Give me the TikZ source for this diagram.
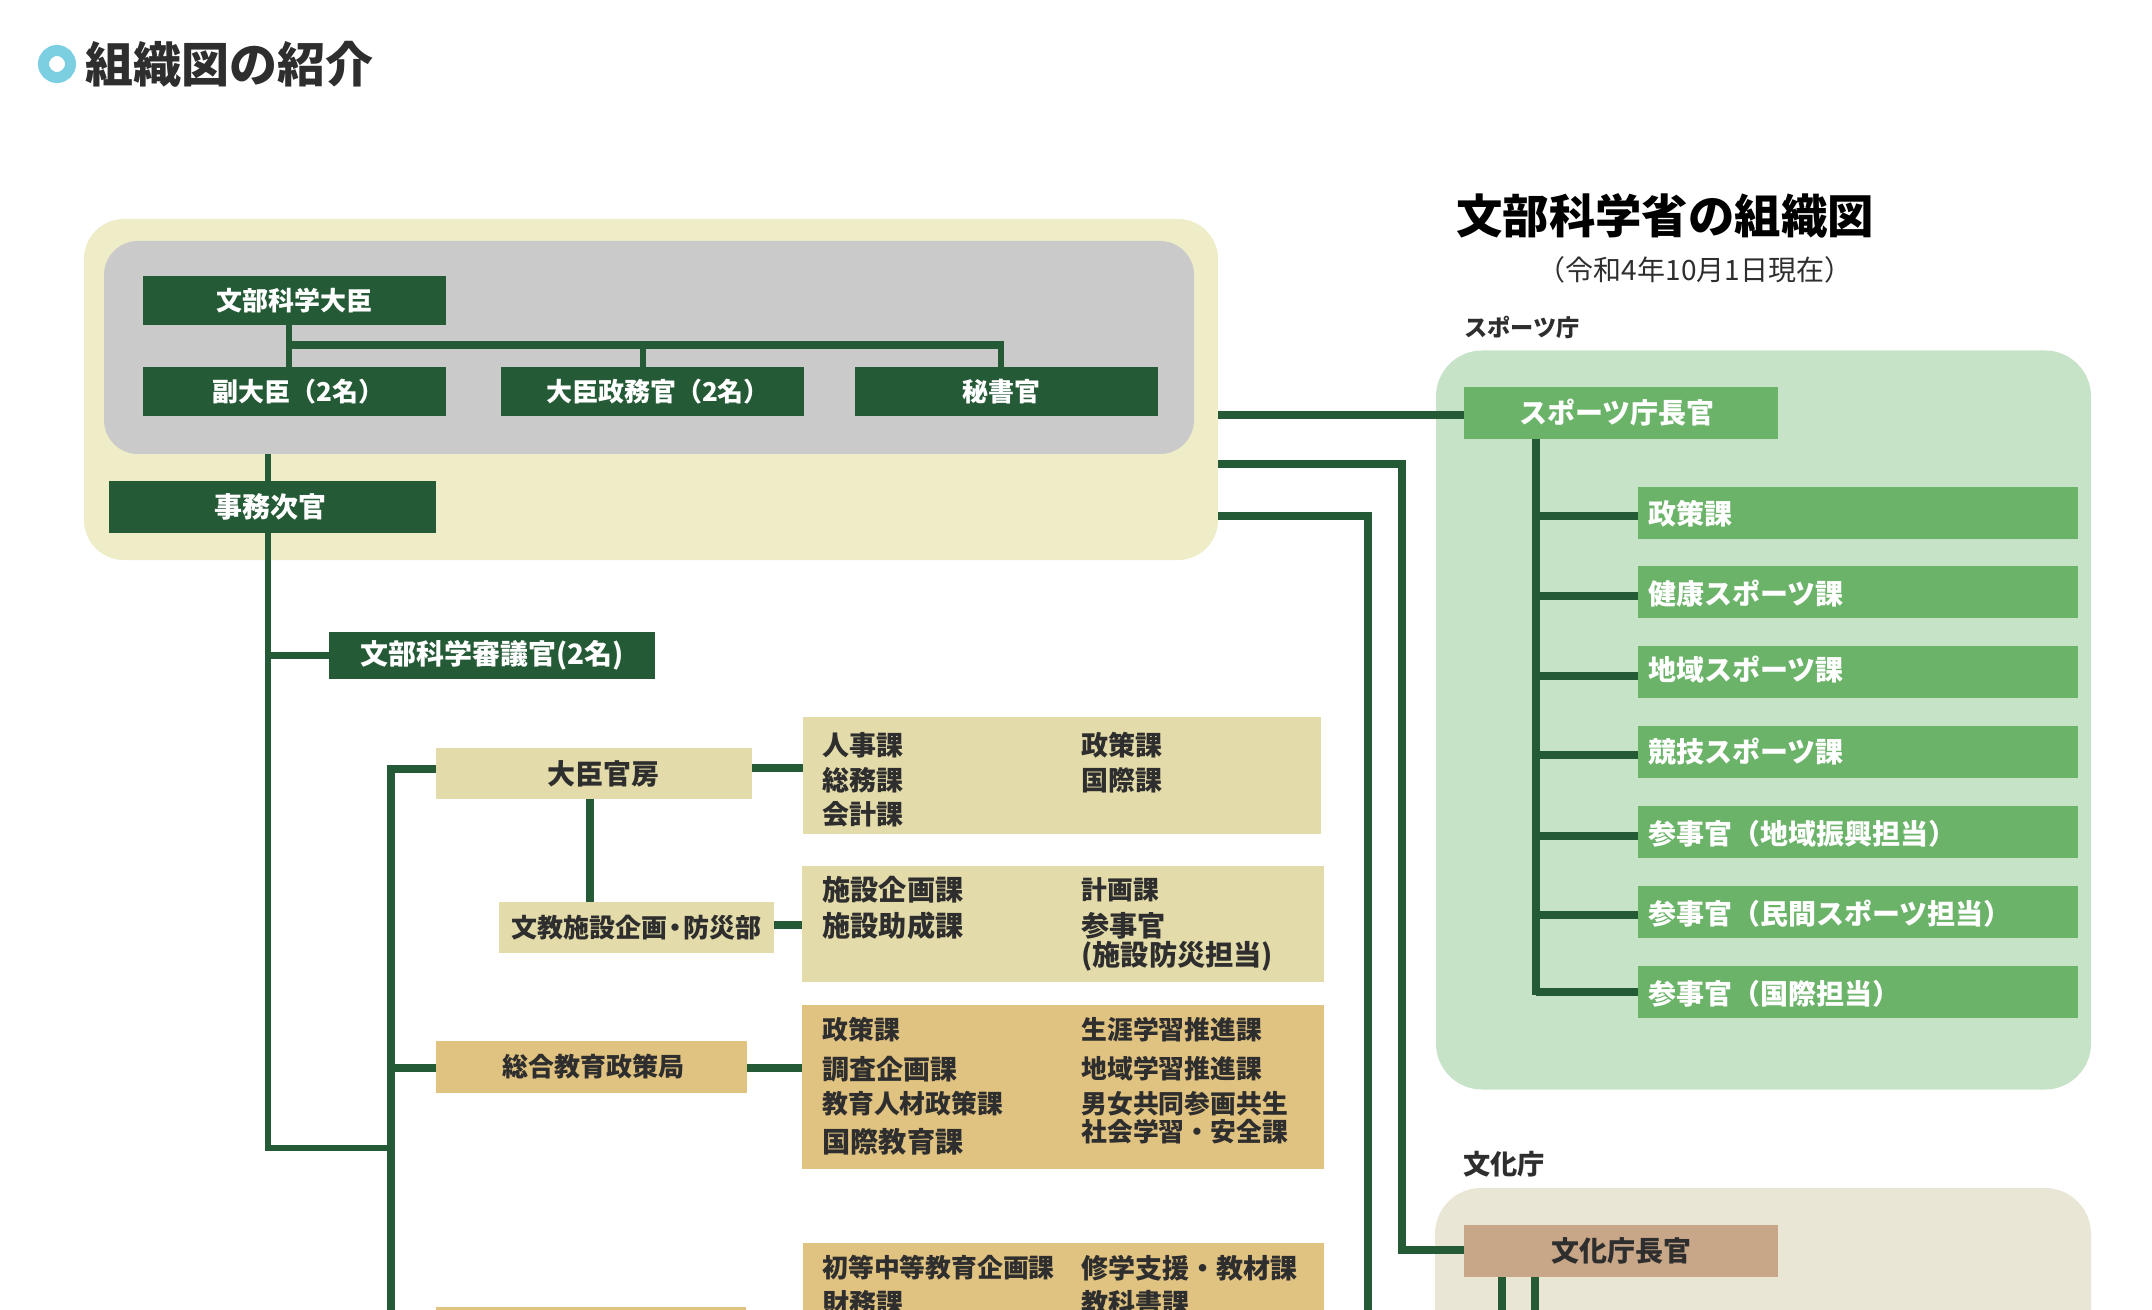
\documentclass[tikz,border=0pt]{standalone}
\usepackage{fontspec}
\usetikzlibrary{positioning}
\setmainfont{Noto Sans CJK JP}
\definecolor{dkgreen}{HTML}{255A37}
\definecolor{outercream}{HTML}{EEEDC8}
\definecolor{greypanel}{HTML}{CACACA}
\definecolor{sportbg}{HTML}{C7E3C7}
\definecolor{sportbox}{HTML}{6CB36A}
\definecolor{culturebg}{HTML}{EAE6D5}
\definecolor{culturebox}{HTML}{C8A688}
\definecolor{paleochre}{HTML}{E3DBA9}
\definecolor{ochre}{HTML}{E0C281}
\definecolor{bulletblue}{HTML}{7CCFE0}
\definecolor{inktext}{HTML}{2E2E2E}
\begin{document}
\begin{tikzpicture}
        [x=0.5pt,y=-0.5pt,
        box/.style={rectangle,inner sep=0pt,font=\bfseries\fontsize{13}{15}\selectfont},
        bigbox/.style={box,font=\bfseries\fontsize{14}{16}\selectfont},
        dkbox/.style={box,fill=dkgreen,text=white},
        minbox/.style={dkbox,minimum width=151.5pt,minimum height=24.5pt},
        spbox/.style={box,fill=sportbox,text=white,minimum width=220pt,minimum height=26pt},
        sptext/.style={anchor=west,text=white,inner sep=0pt,font=\bfseries\fontsize{14}{16}\selectfont},
        panel/.style={rectangle,inner sep=0pt,rounded corners=20pt},
        item/.style={anchor=west,inner sep=0pt,text=inktext,font=\bfseries\fontsize{13.5}{16}\selectfont},
        itemsm/.style={item,font=\bfseries\fontsize{12.9}{16}\selectfont},
        itemlg/.style={item,font=\bfseries\fontsize{14.1}{16}\selectfont},
        link/.style={draw=dkgreen,line width=3.7pt},
        thinlink/.style={draw=dkgreen,line width=3.1pt},
        caption/.style={inner sep=0pt,text=inktext,font=\bfseries\fontsize{12.5}{15}\selectfont}]
        \useasboundingbox (0,0) rectangle (2152,1310);
        \clip (0,0) rectangle (2152,1310);
        \fill[white] (0,0) rectangle (2152,1310);

        % heading
        \node[circle,draw=bulletblue,line width=5.5pt,minimum size=13.5pt,inner sep=0pt] (bullet) at (57,64) {};
        \node[right=4.5pt of bullet,inner sep=0pt,text=inktext,font=\bfseries\fontsize{24}{28}\selectfont] (heading) {組織図の紹介};
        \node[inner sep=0pt,text=black,font=\bfseries\fontsize{23.2}{27}\selectfont] (title) at (1665,216) {文部科学省の組織図};
        \node[inner sep=0pt,text=inktext,font=\fontsize{14}{16}\selectfont] (date) at (1695,270) {（令和4年10月1日現在）};

        % panels
        \node[panel,fill=outercream,minimum width=567pt,minimum height=170.5pt] (top) at (651,389.5) {};
        \node[panel,rounded corners=17pt,fill=greypanel,minimum width=545pt,minimum height=106.5pt] (grey) at (649,347.5) {};
        \node[panel,rounded corners=23pt,fill=sportbg,minimum width=327.5pt,minimum height=369.5pt] (sport) at (1763.5,720) {};
        \node[panel,rounded corners=23pt,fill=culturebg,minimum width=328pt,minimum height=200pt] (culture) at (1763,1388) {};
        \node[caption,anchor=west,font=\bfseries\fontsize{11.6}{15}\selectfont] (sportcap) at (1464,327) {スポーツ庁};
        \node[caption,anchor=west,font=\bfseries\fontsize{13.6}{15}\selectfont] (culturecap) at (1463,1164) {文化庁};

        % ministers
        \node[minbox] (minister) at (294.5,300.5) {\raisebox{-1pt}{文部科学大臣}};
        \node[minbox] (vice) at (294.5,391.5) {\kern4pt 副大臣（2名）};
        \node[minbox] (parl) at (652.5,391.5) {\kern5.5pt 大臣政務官（2名）};
        \node[minbox] (sec) at (1006.5,391.5) {\raisebox{-0.5pt}{秘書官}\kern5pt};
        \node[dkbox,bigbox,text=white,minimum width=163.5pt,minimum height=26pt] (vicemin) at (272.5,507) {事務次官\kern2pt};
        \node[dkbox,bigbox,text=white,minimum width=163pt,minimum height=23.5pt] (council) at (492,655.5) {文部科学審議官(2名)};

        % bureaus
        \node[box,bigbox,fill=paleochre,text=inktext,minimum width=158pt,minimum height=25.5pt] (kanbo) at (594,773.5) {\kern9pt\raisebox{-0.5pt}{大臣官房}};
        \node[box,fill=paleochre,text=inktext,minimum width=137.5pt,minimum height=25.5pt] (shisetsu) at (636.5,927.5) {文教施設企画\kern-2.5pt・\kern-2.5pt防災部};
        \node[box,fill=ochre,text=inktext,minimum width=155.5pt,minimum height=26pt] (sogo) at (591.5,1067) {\kern2pt 総合教育政策局};
        \node[box,fill=ochre,minimum width=155pt,minimum height=26pt] (shoto) at (591,1333) {};

        \node[box,fill=paleochre,minimum width=259pt,minimum height=58.5pt] (p1) at (1062,775.5) {};
        \node[box,fill=paleochre,minimum width=261pt,minimum height=58pt] (p2) at (1063,924) {};
        \node[box,fill=ochre,minimum width=261pt,minimum height=82pt] (p3) at (1063,1087) {};
        \node[box,fill=ochre,minimum width=260.5pt,minimum height=80pt] (p4) at (1063.5,1323) {};

        % panel items
        \node[item] (a1) at (822,745) {人事課};
        \node[item] (a2) at (822,780) {総務課};
        \node[item] (a3) at (822,814) {会計課};
        \node[item] (a4) at (1081,745) {政策課};
        \node[item] (a5) at (1081,780) {国際課};
        \node[itemlg] (b1) at (822,890) {施設企画課};
        \node[itemlg] (b2) at (822,926) {施設助成課};
        \node[itemsm] (b3) at (1081,890) {計画課};
        \node[itemlg] (b4) at (1081,926) {参事官};
        \node[itemlg] (b5) at (1081,956) {(施設防災担当)};
        \node[itemsm] (c1) at (822,1030) {政策課};
        \node[item] (c2) at (822,1069) {調査企画課};
        \node[itemsm] (c3) at (822,1104) {教育人材政策課};
        \node[itemlg] (c4) at (822,1142) {国際教育課};
        \node[itemsm] (c5) at (1081,1030) {生涯学習推進課};
        \node[itemsm] (c6) at (1081,1069) {地域学習推進課};
        \node[itemsm] (c7) at (1081,1104) {男女共同参画共生};
        \node[itemsm] (c8) at (1081,1132) {社会学習・安全課};
        \node[itemsm] (d1) at (822,1268) {初等中等教育企画課};
        \node[item] (d2) at (822,1303) {財務課};
        \node[item] (d3) at (1081,1268) {修学支援・教材課};
        \node[item] (d4) at (1081,1303) {教科書課};

        % sports agency
        \node[box,bigbox,fill=sportbox,text=white,minimum width=157pt,minimum height=26pt] (spchief) at (1621,413) {\raisebox{-0.5pt}{スポーツ庁長官}\kern4pt};
        \node[spbox] (s1) at (1858,512.5) {};
        \node[spbox] (s2) at (1858,592) {};
        \node[spbox] (s3) at (1858,672) {};
        \node[spbox] (s4) at (1858,752) {};
        \node[spbox] (s5) at (1858,832) {};
        \node[spbox] (s6) at (1858,912) {};
        \node[spbox] (s7) at (1858,992) {};
        \node[sptext] (st1) at (1648,514) {政策課};
        \node[sptext] (st2) at (1648,594) {健康スポーツ課};
        \node[sptext] (st3) at (1648,670) {地域スポーツ課};
        \node[sptext] (st4) at (1648,752) {競技スポーツ課};
        \node[sptext] (st5) at (1648,834) {参事官（地域振興担当）};
        \node[sptext] (st6) at (1648,914) {参事官（民間スポーツ担当）};
        \node[sptext] (st7) at (1648,994) {参事官（国際担当）};

        % culture agency
        \node[box,bigbox,fill=culturebox,text=inktext,minimum width=157pt,minimum height=26pt] (cuchief) at (1621,1251) {文化庁長官};

        % free ends and corners
        \coordinate (j0) at (1218,415);
        \coordinate (j1) at (1402,464);
        \coordinate (j2) at (1368,516);
        \coordinate (bend) at (268,1148);
        \coordinate (tee) at (391,1148);
        \coordinate (up) at (391,769);
        \coordinate (down) at (391,1312);
        \coordinate (out) at (1368,1312);

        % connectors
        \draw[thinlink] (289,325) -- (289,367);
        \draw[link] (286,345) -- (1004,345);
        \draw[thinlink] (643,345) -- (parl.north -| 643,0);
        \draw[thinlink] (1001,345) -- (sec.north -| 1001,0);
        \draw[thinlink] (grey.south -| bend) -- (vicemin.north -| bend);
        \draw[thinlink] (vicemin.south -| bend) -- (bend) -- (tee);
        \draw[thinlink] (bend |- council.west) -- (council.west);
        \draw[link] (up -| kanbo.west) -- (up) -- (down);
        \draw[link] (tee |- 0,1068) -- (sogo.west |- 0,1068);
        \draw[link] (kanbo.east |- 0,768) -- (p1.west |- 0,768);
        \draw[link] (590,799) -- (590,902);
        \draw[link] (shisetsu.east |- 0,925) -- (p2.west |- 0,925);
        \draw[link] (sogo.east |- 0,1068) -- (p3.west |- 0,1068);
        \draw[link] (j0) -- (spchief.west |- j0);
        \draw[link] (top.east |- j1) -- (j1) -- (j1 |- 0,1250) -- (cuchief.west |- 0,1250);
        \draw[link] (top.east |- j2) -- (j2) -- (out);
        \draw[link] (1536,439) -- (1536,995);
        \foreach \y/\n in {516/s1,596/s2,676/s3,755/s4,836/s5,915/s6,992/s7}
            \draw[link] (1536,\y) -- (\n.west |- 0,\y);
        \draw[link] (1502,1277) -- (1502,1312);
        \draw[link] (1535,1277) -- (1535,1312);
    \end{tikzpicture}
\end{document}
